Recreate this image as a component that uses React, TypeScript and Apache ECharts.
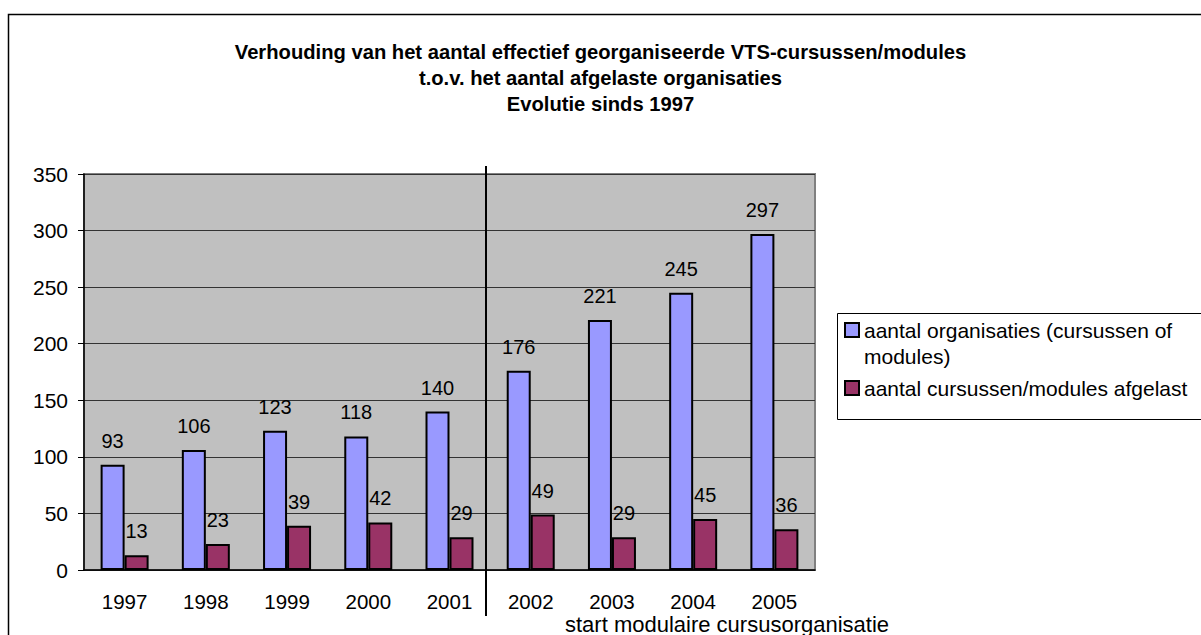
import React, { useEffect, useRef } from "react";
import * as echarts from "echarts";

const categories = ["1997", "1998", "1999", "2000", "2001", "2002", "2003", "2004", "2005"];
const organisaties = [93, 106, 123, 118, 140, 176, 221, 245, 297];
const afgelast = [13, 23, 39, 42, 29, 49, 29, 45, 36];
const seriesNames = ["aantal organisaties (cursussen of\nmodules)", "aantal cursussen/modules afgelast"];
const titleLines = [
  "Verhouding van het aantal effectief georganiseerde VTS-cursussen/modules",
  "t.o.v. het aantal afgelaste organisaties",
  "Evolutie sinds 1997",
];
const noteText = "start modulaire cursusorganisatie";

const FONT = "'Liberation Sans', Arial, sans-serif";

export default function App() {
  const ref = useRef<HTMLDivElement>(null);
  useEffect(() => {
    document.body.style.margin = "0";
    const chart = echarts.init(ref.current!, null, { renderer: "svg" });
    const labelStyle = {
      show: true,
      position: "top" as const,
      distance: 14,
      color: "#000",
      fontSize: 20,
      fontFamily: FONT,
    };
    chart.setOption({
      animation: false,
      textStyle: { fontFamily: FONT },
      title: {
        text: titleLines.join("\n"),
        left: "center",
        top: 34,
        textStyle: { fontSize: 20.2, fontWeight: "bold", color: "#000", lineHeight: 26, fontFamily: FONT },
      },
      grid: {
        left: 84,
        top: 174,
        right: 386,
        bottom: 65,
        show: true,
        backgroundColor: "#C0C0C0",
        borderColor: "#808080",
        borderWidth: 2,
      },
      legend: {
        orient: "vertical",
        left: 844,
        top: 291,
        padding: 0,
        itemWidth: 14,
        itemHeight: 14,
        itemGap: 6,
        icon: "rect",
        textStyle: { fontSize: 21, color: "#000", lineHeight: 26, fontFamily: FONT },
        formatter: (name: string) => (name === seriesNames[0] ? " \n" + name : name),
        data: seriesNames,
      },
      xAxis: {
        type: "category",
        data: categories,
        axisLine: { lineStyle: { color: "#000", width: 1.5 } },
        axisTick: { alignWithLabel: false, length: 7, lineStyle: { color: "#000" } },
        axisLabel: { fontSize: 20.5, lineHeight: 20, color: "#000", margin: 21, fontFamily: FONT },
      },
      yAxis: {
        type: "value",
        min: 0,
        max: 350,
        interval: 50,
        axisLine: { show: true, lineStyle: { color: "#000", width: 1.5 } },
        axisTick: { show: true, length: 6, lineStyle: { color: "#000" } },
        axisLabel: { fontSize: 21, color: "#000", margin: 16, fontFamily: FONT },
        splitLine: { lineStyle: { color: "#333", width: 1 } },
      },
      series: [
        {
          name: seriesNames[0],
          type: "bar",
          data: organisaties,
          barWidth: 24,
          barGap: "0%",
          itemStyle: { color: "#9999FF", borderColor: "#000", borderWidth: 2 },
          label: labelStyle,
        },
        {
          name: seriesNames[1],
          type: "bar",
          data: afgelast,
          barWidth: 24,
          barGap: "0%",
          itemStyle: { color: "#993366", borderColor: "#000", borderWidth: 2 },
          label: labelStyle,
        },
      ],
      graphic: [
        {
          type: "rect",
          z: -10,
          silent: true,
          shape: { x: 8.5, y: 14.5, width: 1260, height: 700 },
          style: { fill: "none", stroke: "#000", lineWidth: 1.5 },
        },
        {
          type: "rect",
          z: -5,
          silent: true,
          shape: { x: 837.5, y: 313.5, width: 400, height: 106 },
          style: { fill: "#fff", stroke: "#000", lineWidth: 1 },
        },
        {
          type: "line",
          z: 100,
          silent: true,
          shape: { x1: 486, y1: 166, x2: 486, y2: 616 },
          style: { stroke: "#000", lineWidth: 2 },
        },
        {
          type: "text",
          z: 100,
          silent: true,
          x: 565,
          y: 624,
          style: {
            text: noteText,
            fontSize: 22,
            lineHeight: 20,
            fill: "#000",
            fontFamily: FONT,
            verticalAlign: "middle",
          },
        },
      ],
    });
    return () => chart.dispose();
  }, []);
  return <div ref={ref} style={{ width: 1201, height: 635 }} />;
}
